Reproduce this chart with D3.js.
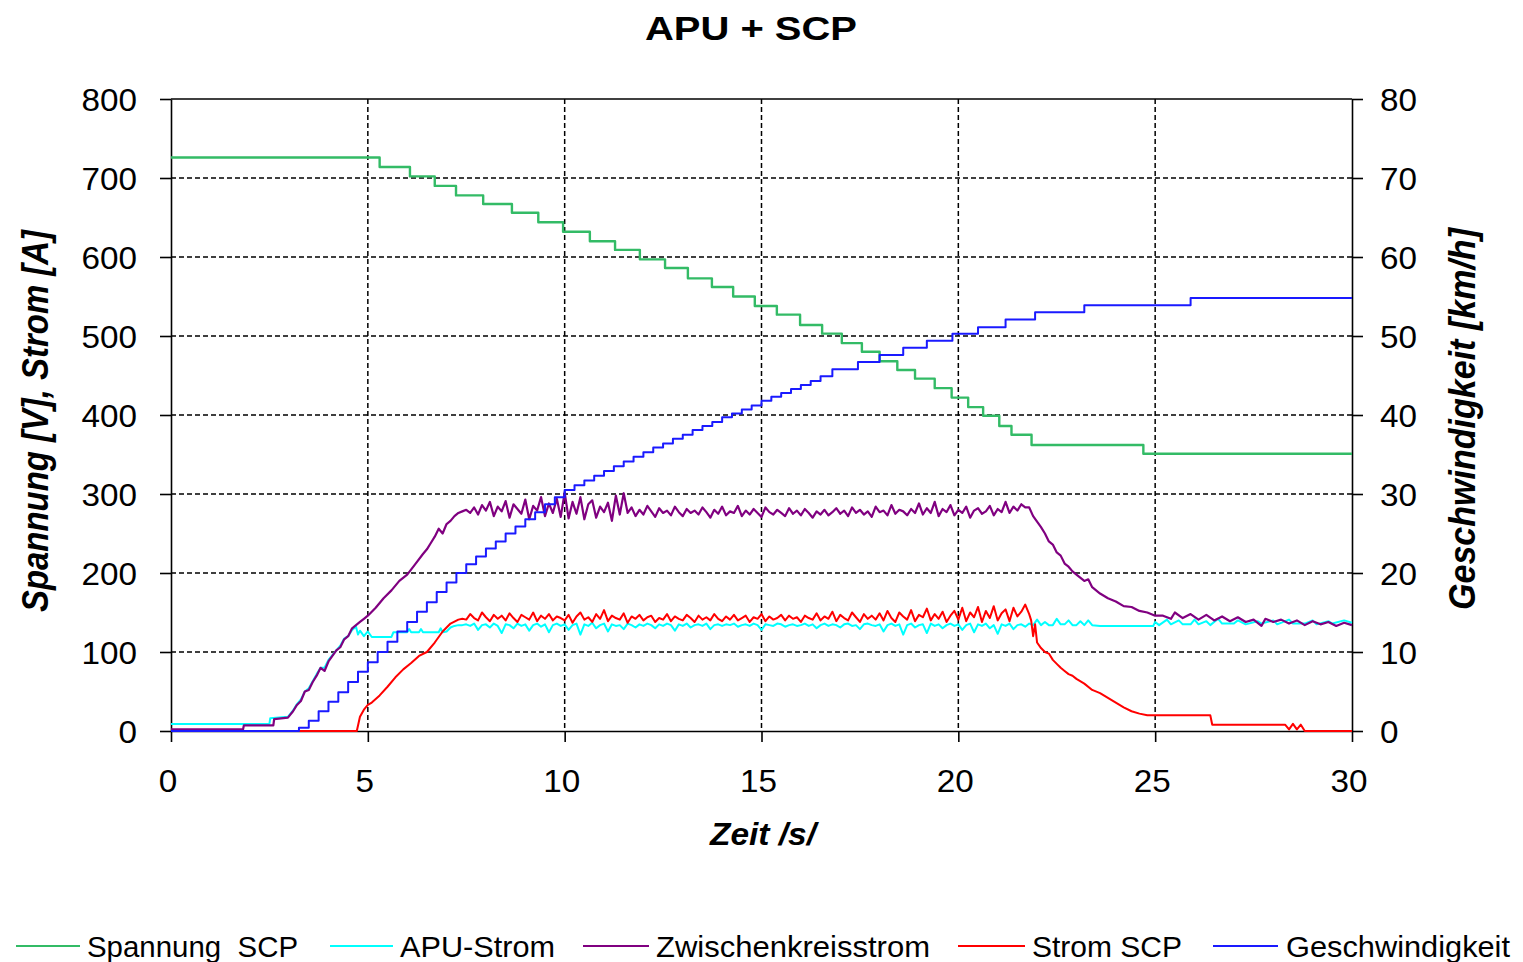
<!DOCTYPE html>
<html>
<head>
<meta charset="utf-8">
<script src="https://cdn.jsdelivr.net/npm/d3@7"></script>
<style>
body { margin: 0; background: #fff; }
text { font-family: "Liberation Sans", Arial, sans-serif; fill: #000; }
</style>
</head>
<body>
<script>
// ---- data ----
const xTicks = [0, 5, 10, 15, 20, 25, 30];
const yLeftTicks = [0, 100, 200, 300, 400, 500, 600, 700, 800];
const yRightTicks = [0, 10, 20, 30, 40, 50, 60, 70, 80];
const seriesNames = ["Spannung  SCP", "APU-Strom", "Zwischenkreisstrom", "Strom SCP", "Geschwindigkeit"];
const seriesColors = ["#33bb66", "#00ffff", "#800080", "#ff0000", "#1a1aff"];

const noiseStep = 0.1;

// Spannung SCP [V] (steps)
const spannung = [[0,726],[5.3,714],[6.07,702],[6.7,690],[7.24,678],[7.93,667],[8.66,656],[9.33,644],[9.96,632],
  [10.64,620],[11.28,609],[11.91,597],[12.55,586],[13.13,573],[13.74,562],[14.28,550],[14.83,538],[15.39,527],
  [15.98,514],[16.54,503],[17.04,491],[17.55,480],[18.0,468],[18.45,457],[18.9,446],[19.4,434],[19.83,422],
  [20.25,410],[20.63,399],[21.04,386],[21.35,375],[21.86,362],[24.7,351],[30,351]];

// APU-Strom [A]
const apuStart = [[0,9],[2.5,9],[2.52,16],[2.97,18],[3.1,26],[3.2,34],[3.3,40],[3.4,50],[3.5,54],[3.6,63],[3.7,72],
  [3.8,80],[3.9,80],[4.0,90],[4.1,96],[4.2,102],[4.3,108],[4.4,117],[4.5,120],[4.6,128],[4.7,132],[4.75,122],
  [4.8,127],[4.9,120],[5.0,126],[5.1,119],[5.2,119],[5.6,119],[5.65,125],[6.0,125],[6.05,129],[6.1,125],[6.3,125],
  [6.35,129],[6.4,125],[6.8,125],[6.85,130],[6.9,125],[7.0,126],[7.1,131],[7.2,133],[7.3,134]];
const apuNoiseStart = 7.4;
const apuNoise = [134,135,133,136,128,134,135,131,136,133,124,135,134,130,136,133,135,127,134,136,132,135,125,134,136,133,
  135,128,134,136,122,135,133,137,130,134,136,126,135,133,134,129,136,134,131,135,
  133,136,134,130,135,133,136,134,127,135,133,136,131,134,135,133,136,129,134,135,
  133,135,134,136,132,134,135,133,136,134,128,135,134,133,136,135,132,134,135,133,
  134,136,133,135,130,134,136,133,135,134,131,135,136,133,134,129,135,136,134,133,
  135,126,134,136,133,135,122,134,136,131,134,135,124,136,133,135,130,134,136,133,
  135,128,134,136,125,135,133,136,130,134,123,135,133,136,129,134,135,132,136];
const apuEnd = [[21.9,134],[22.0,141],[22.1,134],[22.2,138],[22.3,134],[22.4,134],[22.5,142],[22.6,135],[22.7,135],
  [22.8,140],[22.9,134],[23.0,134],[23.1,139],[23.2,134],[23.3,140],[23.4,134],[23.6,133],[24.95,133],[25.0,138],
  [25.1,134],[25.3,141],[25.4,135],[25.6,140],[25.7,135],[25.9,135],[26.0,141],[26.1,135],[26.3,139],[26.4,134],
  [26.6,142],[26.7,136],[27.0,136],[27.1,140],[27.3,135],[27.6,139],[27.7,136],[28.0,140],[28.1,135],[28.4,141],
  [28.5,136],[28.8,136],[29.0,140],[29.1,135],[29.4,139],[29.5,136],[29.8,140],[30,137]];

// Zwischenkreisstrom [A]
const zkStart = [[0,2],[1.83,2],[1.85,7],[2.6,7],[2.62,15],[2.97,17],[3.1,25],[3.2,33],[3.3,38],[3.4,50],[3.5,52],
  [3.6,62],[3.7,70],[3.8,80],[3.9,76],[4.0,88],[4.1,95],[4.2,102],[4.3,106],[4.4,116],[4.5,120],[4.6,130],[4.7,134],
  [4.8,138],[4.9,142],[5.0,146],[5.2,156],[5.4,168],[5.6,178],[5.8,190],[6.0,198],[6.2,211],[6.4,224],[6.5,230],
  [6.6,238],[6.7,246],[6.8,256],[6.9,250],[7.0,262],[7.1,266],[7.2,272],[7.3,276],[7.4,278]];
const zkNoiseStart = 7.5;
const zkNoise = [280,276,283,274,286,279,290,272,284,278,291,270,287,281,275,293,268,285,279,296,272,288,276,294,271,
  302,269,290,275,296,268,287,292,270,284,277,289,266,298,274,
  301,276,283,272,280,274,285,278,271,282,276,279,273,284,277,
  272,281,276,279,274,283,277,270,280,275,284,273,278,276,285,272,279,274,281,276,
  271,283,277,274,280,276,272,282,275,279,273,281,276,270,278,274,280,273,277,282,
  275,279,272,283,276,280,274,278,271,284,277,279,273,286,275,280,278,273,281,276,
  288,274,282,276,290,272,281,277,286,273,280,276,284,270,279,282,275,278,285,273,
  281,277,290,276,284,279,287,283];
const zkEnd = [[21.8,283],[21.9,272],[22.0,265],[22.1,258],[22.2,250],[22.3,240],[22.4,236],[22.5,226],[22.6,222],
  [22.7,212],[22.8,208],[22.9,202],[23.0,198],[23.2,190],[23.3,192],[23.4,182],[23.6,174],[23.8,168],[24.0,164],
  [24.2,158],[24.4,157],[24.6,152],[24.8,150],[25.0,146],[25.2,146],[25.4,142],[25.5,150],[25.7,143],[25.9,148],
  [26.1,141],[26.3,147],[26.5,140],[26.7,145],[26.9,139],[27.1,144],[27.3,138],[27.5,141],[27.7,133],[27.8,142],
  [28.0,138],[28.2,141],[28.4,136],[28.6,140],[28.8,134],[29.0,139],[29.2,135],[29.4,138],[29.6,133],[29.8,137],[30,134]];

// Strom SCP [A]
const scpStart = [[0,0],[4.72,0],[4.8,18],[4.9,27],[5.0,33],[5.1,36],[5.3,45],[5.5,56],[5.7,68],[5.9,78],[6.1,86],
  [6.3,95],[6.5,100],[6.7,112],[6.9,126],[7.1,136],[7.3,141]];
const scpNoiseStart = 7.4;
const scpNoise = [142,141,148,143,140,150,144,139,147,142,146,140,149,143,138,147,144,141,150,139,146,142,148,140,145,143,
  140,147,137,145,150,141,144,138,148,142,153,139,146,143,141,149,137,145,142,147,
  140,144,146,138,143,141,148,139,145,142,140,147,143,138,146,141,144,140,148,142,
  139,145,141,147,140,143,146,138,144,142,148,139,145,141,143,147,140,146,142,144,
  138,146,143,141,149,140,145,142,151,139,147,143,140,150,144,138,148,142,146,141,
  149,140,152,143,138,150,145,141,153,139,147,144,155,140,148,142,151,138,146,152,
  141,156,139,150,144,157,138,152,143,158,140,149,154,139,156,145,151,160,148];
const scpEnd = [[21.85,140],[21.9,120],[21.95,135],[22.0,112],[22.1,105],[22.2,100],[22.3,98],[22.4,90],[22.5,85],
  [22.6,80],[22.7,76],[22.8,72],[22.9,70],[23.0,66],[23.2,60],[23.4,52],[23.6,48],[23.8,42],[24.0,36],[24.2,30],
  [24.4,25],[24.6,22],[24.8,20],[26.4,20],[26.45,8],[28.3,8],[28.4,2],[28.5,9],[28.6,2],[28.7,8],[28.8,0],[30,0]];

// Geschwindigkeit [km/h] (steps)
const speed = [[0,0],[3.15,0],[3.25,0.4],[3.5,1.3],[3.75,2.5],[4.0,3.7],[4.25,4.9],[4.5,6.2],[4.75,7.5],[5.0,8.7],
  [5.25,10.0],[5.5,11.3],[5.75,12.6],[6.0,13.8],[6.25,15.1],[6.5,16.3],[6.75,17.6],[7.0,18.8],[7.25,20.0],[7.5,21.1],
  [7.75,22.1],[8.0,23.1],[8.25,24.0],[8.5,25.0],[8.75,25.9],[9.0,26.8],[9.25,27.7],[9.5,28.7],[9.75,29.6],[10.0,30.5],
  [10.25,31.1],[10.5,31.7],[10.75,32.3],[11.0,32.9],[11.25,33.5],[11.5,34.1],[11.75,34.7],[12.0,35.3],[12.25,35.9],
  [12.5,36.4],[12.75,37.0],[13.0,37.5],[13.25,38.1],[13.5,38.6],[13.75,39.1],[14.0,39.7],[14.25,40.2],[14.5,40.7],
  [14.75,41.2],[15.0,41.8],[15.25,42.3],[15.5,42.8],[15.75,43.3],[16.0,43.8],[16.25,44.3],[16.5,44.9],[16.8,45.8],
  [17.45,46.7],[18.0,47.6],[18.6,48.5],[19.2,49.4],[19.85,50.3],[20.5,51.1],[21.2,52.1],[21.95,53.0],[23.2,53.9],
  [25.9,54.8],[30,54.8]];

function withNoise(start, t0, values, end) {
  return start.concat(values.map((v, i) => [t0 + i * noiseStep, v]), end);
}
const apuStrom = withNoise(apuStart, apuNoiseStart, apuNoise, apuEnd);
const zwischenkreis = withNoise(zkStart, zkNoiseStart, zkNoise, zkEnd);
const stromScp = withNoise(scpStart, scpNoiseStart, scpNoise, scpEnd);

// ---- chart ----
const width = 1523, height = 962;
const plot = {left: 171, right: 1352, top: 99, bottom: 731};

const x = d3.scaleLinear().domain([0, 30]).range([plot.left, plot.right]);
const yLeft = d3.scaleLinear().domain([0, 800]).range([plot.bottom, plot.top]);
const yRight = d3.scaleLinear().domain([0, 80]).range([plot.bottom, plot.top]);

const svg = d3.select("body").append("svg")
  .attr("width", width)
  .attr("height", height);

// dashed grid
svg.append("g").selectAll("line")
  .data(xTicks.slice(1, -1))
  .join("line")
  .attr("x1", d => x(d)).attr("x2", d => x(d))
  .attr("y1", plot.top).attr("y2", plot.bottom)
  .attr("stroke", "#000").attr("stroke-width", 1.5).attr("stroke-dasharray", "5,3");

svg.append("g").selectAll("line")
  .data(yLeftTicks.slice(1, -1))
  .join("line")
  .attr("x1", plot.left).attr("x2", plot.right)
  .attr("y1", d => yLeft(d)).attr("y2", d => yLeft(d))
  .attr("stroke", "#000").attr("stroke-width", 1.5).attr("stroke-dasharray", "5,3");

// top border
svg.append("line")
  .attr("x1", plot.left).attr("x2", plot.right)
  .attr("y1", plot.top).attr("y2", plot.top)
  .attr("stroke", "#000").attr("stroke-width", 1.6);

// axes (lines + ticks only, labels drawn below)
function styleAxis(g) {
  g.selectAll("path, line").attr("stroke", "#000").attr("stroke-width", 1.6);
  g.selectAll("text").remove();
}
svg.append("g")
  .attr("transform", "translate(" + plot.left + ",0)")
  .call(d3.axisLeft(yLeft).tickValues(yLeftTicks).tickSize(11).tickSizeOuter(0))
  .call(styleAxis);
svg.append("g")
  .attr("transform", "translate(" + plot.right + ",0)")
  .call(d3.axisRight(yRight).tickValues(yRightTicks).tickSize(11).tickSizeOuter(0))
  .call(styleAxis);
svg.append("g")
  .attr("transform", "translate(0," + plot.bottom + ")")
  .call(d3.axisBottom(x).tickValues(xTicks).tickSize(11).tickSizeOuter(0))
  .call(styleAxis);

// tick labels
const digitW = 18.5;
svg.append("g").selectAll("text")
  .data(yLeftTicks)
  .join("text")
  .attr("x", 137).attr("y", d => yLeft(d) + 11.5)
  .attr("text-anchor", "end")
  .attr("font-size", 32)
  .attr("textLength", d => String(d).length * digitW)
  .attr("lengthAdjust", "spacingAndGlyphs")
  .text(d => d);

svg.append("g").selectAll("text")
  .data(yRightTicks)
  .join("text")
  .attr("x", 1380).attr("y", d => yRight(d) + 11.5)
  .attr("text-anchor", "start")
  .attr("font-size", 32)
  .attr("textLength", d => String(d).length * digitW)
  .attr("lengthAdjust", "spacingAndGlyphs")
  .text(d => d);

svg.append("g").selectAll("text")
  .data(xTicks)
  .join("text")
  .attr("x", d => x(d) - 3).attr("y", 792)
  .attr("text-anchor", "middle")
  .attr("font-size", 32)
  .attr("textLength", d => String(d).length * digitW)
  .attr("lengthAdjust", "spacingAndGlyphs")
  .text(d => d);

// titles
svg.append("text")
  .attr("x", 751).attr("y", 40)
  .attr("text-anchor", "middle")
  .attr("font-size", 33).attr("font-weight", "bold")
  .attr("textLength", 212).attr("lengthAdjust", "spacingAndGlyphs")
  .text("APU + SCP");

svg.append("text")
  .attr("x", 763).attr("y", 845)
  .attr("text-anchor", "middle")
  .attr("font-size", 31).attr("font-weight", "bold").attr("font-style", "italic")
  .attr("textLength", 106).attr("lengthAdjust", "spacingAndGlyphs")
  .text("Zeit /s/");

svg.append("text")
  .attr("transform", "translate(48,421) rotate(-90)")
  .attr("text-anchor", "middle")
  .attr("font-size", 37).attr("font-weight", "bold").attr("font-style", "italic")
  .attr("textLength", 382).attr("lengthAdjust", "spacingAndGlyphs")
  .text("Spannung [V], Strom [A]");

svg.append("text")
  .attr("transform", "translate(1475,419) rotate(-90)")
  .attr("text-anchor", "middle")
  .attr("font-size", 37).attr("font-weight", "bold").attr("font-style", "italic")
  .attr("textLength", 382).attr("lengthAdjust", "spacingAndGlyphs")
  .text("Geschwindigkeit [km/h]");

// series
const lineLeft = d3.line().x(d => x(d[0])).y(d => yLeft(d[1]));
const lineRight = d3.line().x(d => x(d[0])).y(d => yRight(d[1]));

const series = [
  {data: spannung, gen: lineLeft, curve: d3.curveStepAfter, w: 2.4},
  {data: apuStrom, gen: lineLeft, curve: d3.curveLinear, w: 2},
  {data: zwischenkreis, gen: lineLeft, curve: d3.curveLinear, w: 2.2},
  {data: stromScp, gen: lineLeft, curve: d3.curveLinear, w: 2},
  {data: speed, gen: lineRight, curve: d3.curveStepAfter, w: 2}
];

series.forEach(function(s, i) {
  svg.append("path")
    .attr("d", s.gen.curve(s.curve)(s.data))
    .attr("fill", "none")
    .attr("stroke", seriesColors[i])
    .attr("stroke-width", s.w)
    .attr("stroke-linejoin", "round");
});

// legend
const legendLineX = [[16, 80], [330, 393], [583, 649], [958, 1025], [1213, 1278]];
const legendTextX = [87, 400, 656, 1032, 1286];
const legendTextW = [211, 155, 274, 150, 224];
const legendY = 946;

const legend = svg.append("g");
seriesNames.forEach(function(name, i) {
  legend.append("line")
    .attr("x1", legendLineX[i][0]).attr("x2", legendLineX[i][1])
    .attr("y1", legendY).attr("y2", legendY)
    .attr("stroke", seriesColors[i]).attr("stroke-width", 2);
  legend.append("text")
    .attr("x", legendTextX[i]).attr("y", legendY + 11)
    .attr("font-size", 30)
    .style("white-space", "pre")
    .attr("textLength", legendTextW[i]).attr("lengthAdjust", "spacingAndGlyphs")
    .text(name);
});
</script>
</body>
</html>
